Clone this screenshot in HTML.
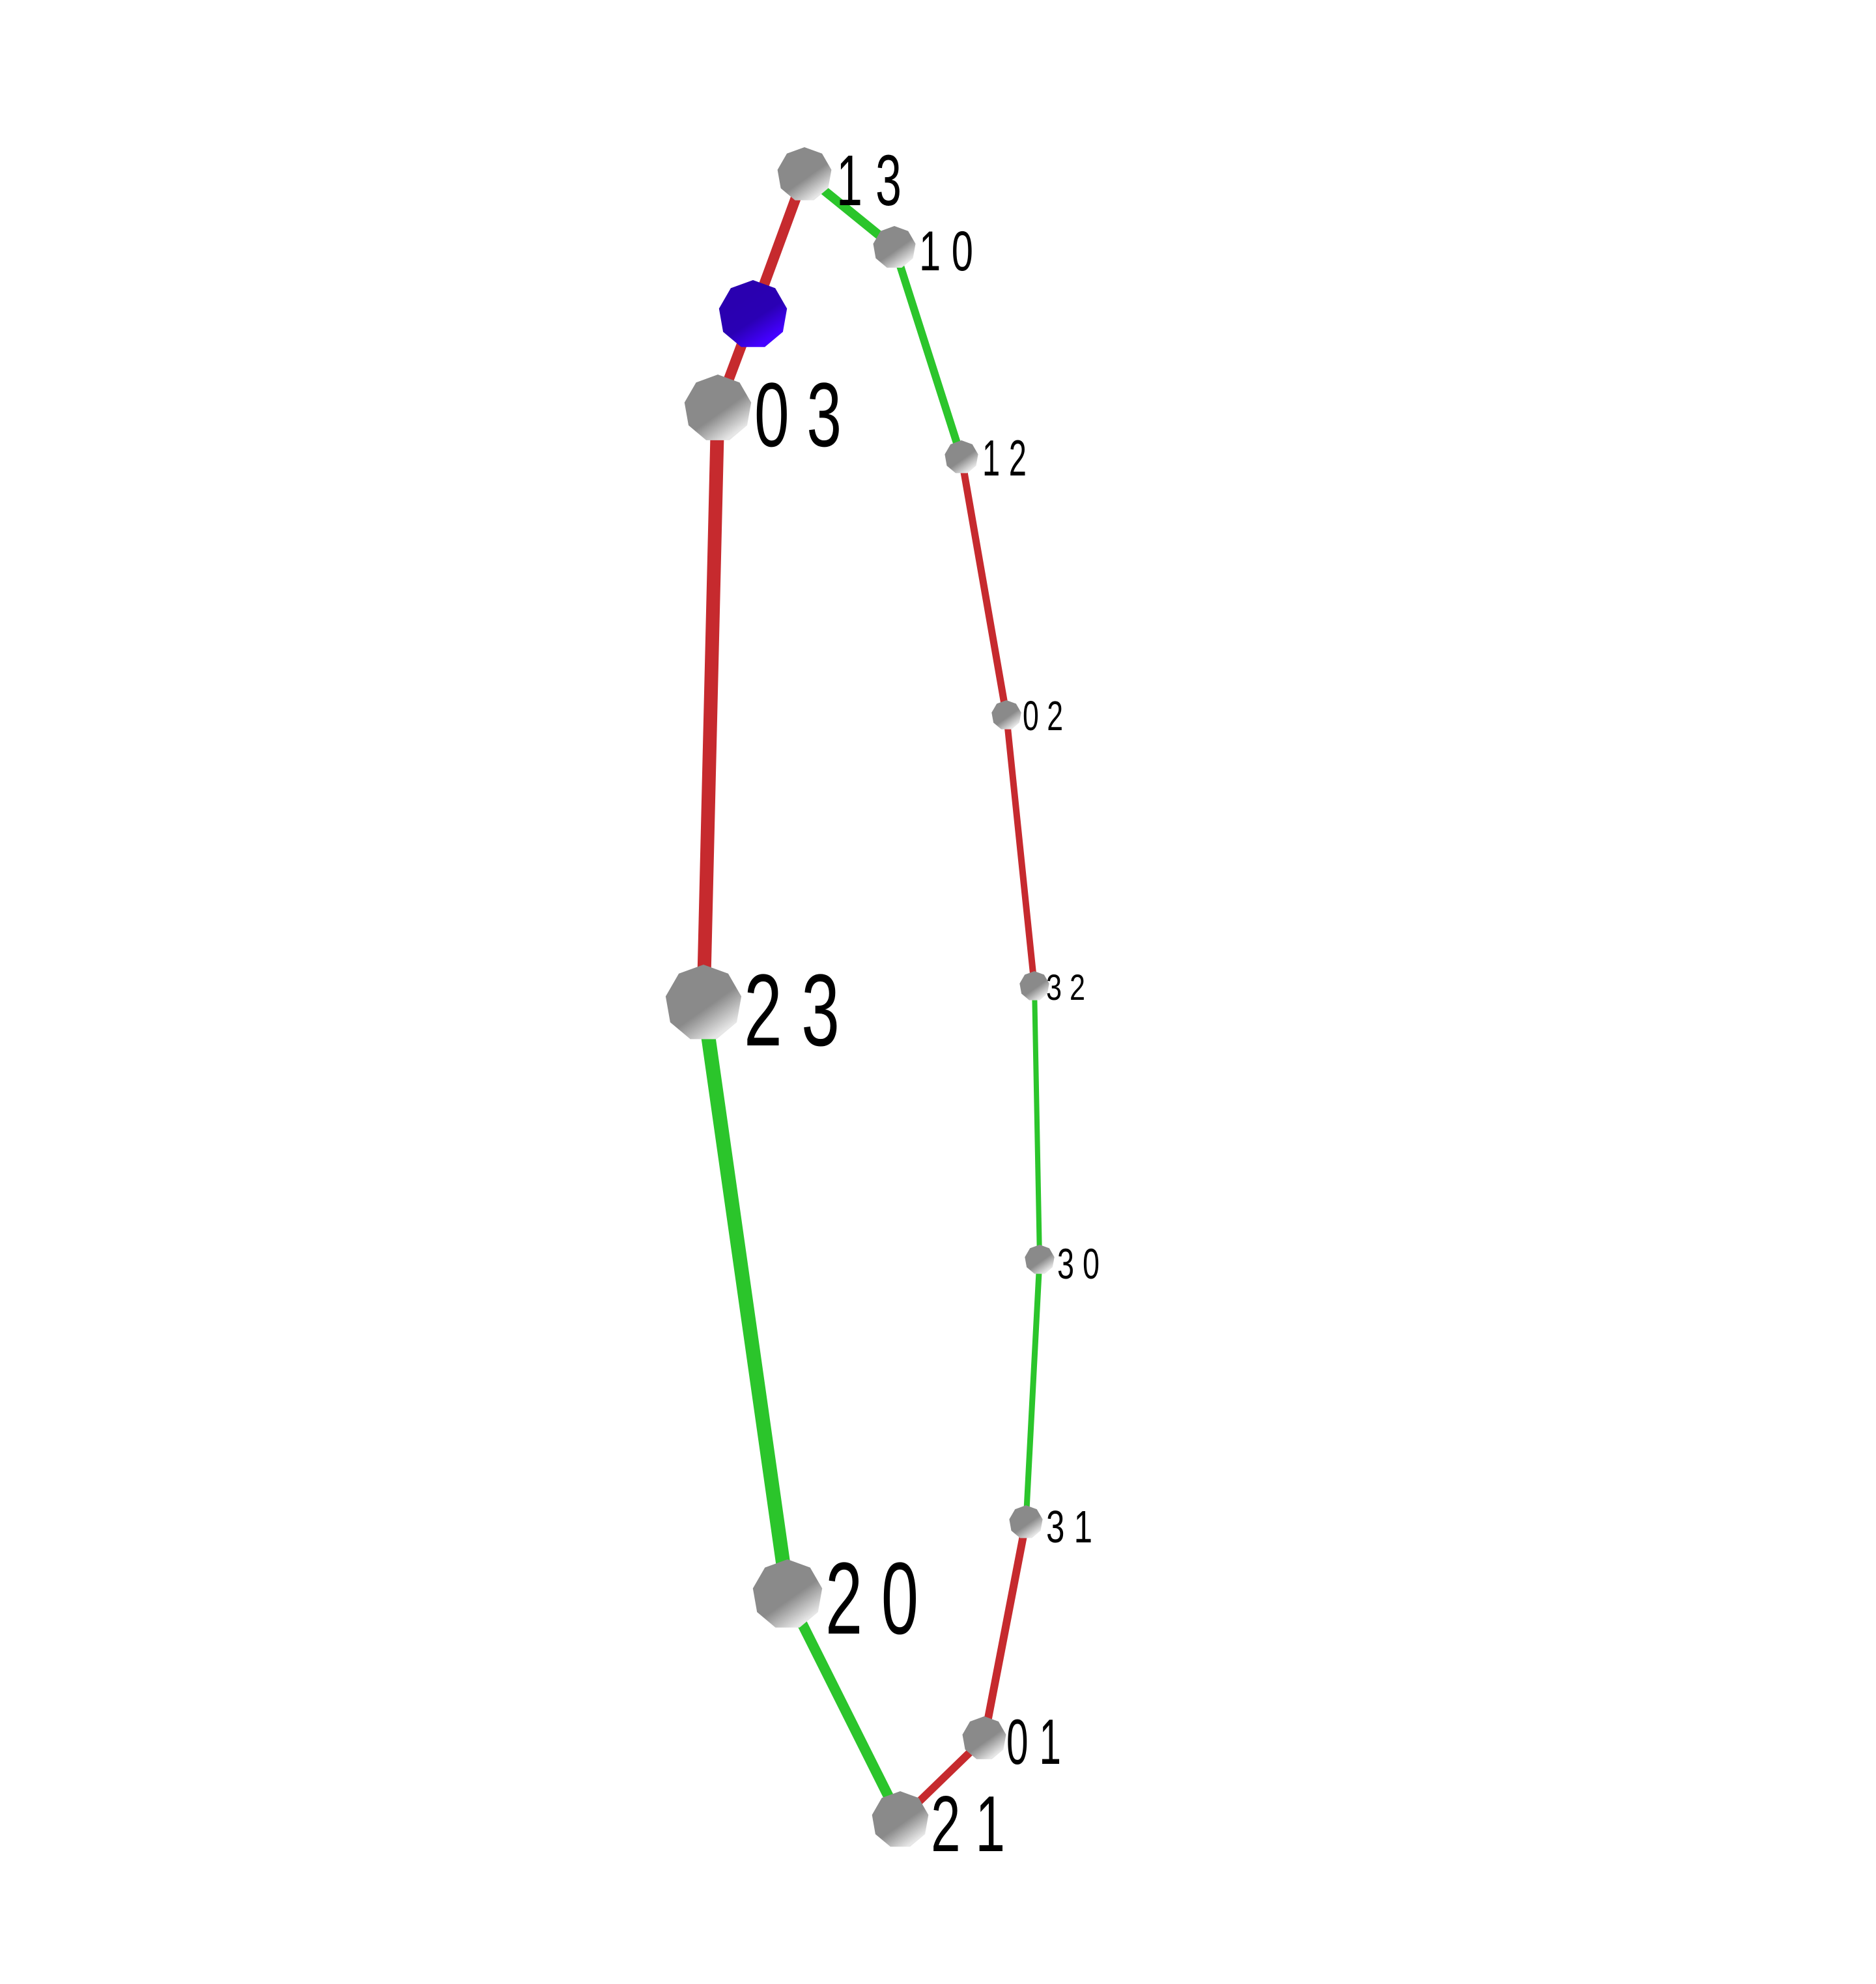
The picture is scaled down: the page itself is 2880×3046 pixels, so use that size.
<!DOCTYPE html>
<html><head><meta charset="utf-8"><style>
html,body{margin:0;padding:0;background:#fff;}
svg{display:block;}
text{font-family:"Liberation Sans",sans-serif;fill:#000;}
</style></head>
<body>
<svg id="chart" width="2880" height="3046" viewBox="0 0 2880 3046" xmlns="http://www.w3.org/2000/svg">
<defs>
<linearGradient id="gray" x1="0.25" y1="0.2" x2="0.75" y2="0.9">
<stop offset="0" stop-color="#8a8a8a"/><stop offset="0.55" stop-color="#8a8a8a"/><stop offset="1" stop-color="#e6e6e6"/>
</linearGradient>
<linearGradient id="blue" x1="0.3" y1="0.3" x2="0.7" y2="0.9">
<stop offset="0" stop-color="#2a00b0"/><stop offset="0.5" stop-color="#2a00b4"/><stop offset="1" stop-color="#4400ff"/>
</linearGradient>
</defs>
<g id="edges"></g>
<g id="nodes"></g>
<g id="labels"></g>
</svg>
<script>
const nodeIds = ["13","10","blue","03","12","02","23","32","30","31","20","01","21"];
const nodeX = [1235,1373,1156,1102,1476,1545,1080,1588,1596,1575,1209,1511,1382];
const nodeY = [268,380,483,627,702,1098,1540,1514,1934,2337,2448,2669,2794];
const nodeR = [42,33,53,52,26,23,59,23,23,26,54,34,44];
const labelText = ["1 3","1 0","","0 3","1 2","0 2","2 3","3 2","3 0","3 1","2 0","0 1","2 1"];
const labelX = [1284,1411,0,1158,1508,1570,1142,1606,1623,1606,1267,1545,1429];
const labelY = [315,415,0,685,730,1121,1605,1535,1963,2368,2508,2708,2842];
const labelSize = [110,86,0,140,78,64,157,56,66,70,157,98,122];
const labelWidth = [100,83,0,134,68,62,147,60,65,71,143,84,114];
const edgeFrom = ["13","blue","03","23","20","21","01","31","30","32","02","12","10"];
const edgeTo   = ["blue","03","23","20","21","01","31","30","32","02","12","10","13"];
const edgeColor= ["red","red","red","green","green","red","red","green","green","red","red","green","green"];
const edgeWidth= [16,16,21,22,16,12,12,9,8,10,11,12,14];

const NS="http://www.w3.org/2000/svg";
const colors={red:"#c62a2e",green:"#2bc52b"};
const idx=id=>nodeIds.indexOf(id);
const eg=document.getElementById("edges");
for(let i=0;i<edgeFrom.length;i++){
  const a=idx(edgeFrom[i]),b=idx(edgeTo[i]);
  const l=document.createElementNS(NS,"line");
  l.setAttribute("x1",nodeX[a]);l.setAttribute("y1",nodeY[a]);
  l.setAttribute("x2",nodeX[b]);l.setAttribute("y2",nodeY[b]);
  l.setAttribute("stroke",colors[edgeColor[i]]);
  l.setAttribute("stroke-width",edgeWidth[i]);
  
  
  eg.appendChild(l);
}
const ng=document.getElementById("nodes");
const lg=document.getElementById("labels");
for(let i=0;i<nodeIds.length;i++){
  const r=nodeR[i],cx=nodeX[i],cy=nodeY[i];
  let pts=[];
  for(let k=0;k<9;k++){const t=-Math.PI/2+k*2*Math.PI/9;pts.push((cx+r*Math.cos(t)).toFixed(1)+","+(cy+r*Math.sin(t)).toFixed(1));}
  const p=document.createElementNS(NS,"polygon");
  p.setAttribute("points",pts.join(" "));
  p.setAttribute("fill",nodeIds[i]==="blue"?"url(#blue)":"url(#gray)");
  
  
  ng.appendChild(p);
  if(labelText[i]){
    const t=document.createElementNS(NS,"text");
    t.setAttribute("x",labelX[i]);t.setAttribute("y",labelY[i]);
    t.setAttribute("font-size",labelSize[i]);
    t.setAttribute("textLength",labelWidth[i]);
    t.setAttribute("lengthAdjust","spacingAndGlyphs");
    t.textContent=labelText[i];
    
    
    lg.appendChild(t);
  }
}
</script>
</body></html>
